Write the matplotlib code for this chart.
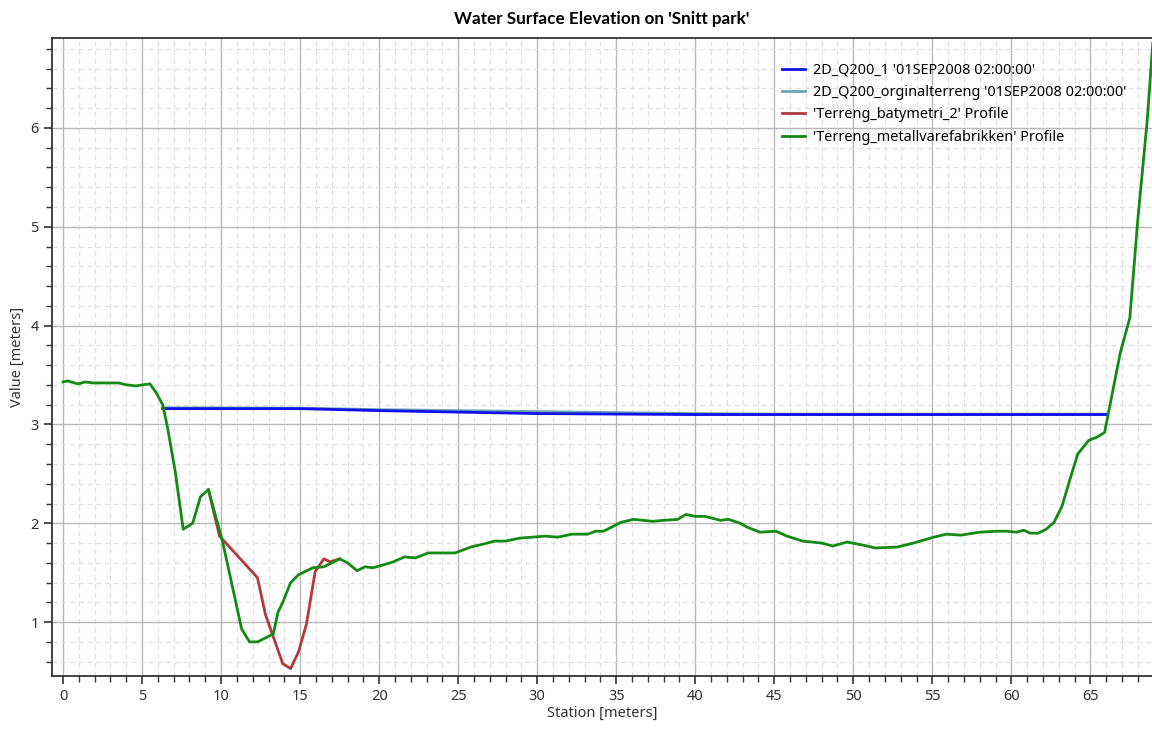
import matplotlib
matplotlib.use("Agg")
import matplotlib.pyplot as plt
from matplotlib.ticker import MultipleLocator

plt.rcParams['font.family'] = ['Noto Sans', 'DejaVu Sans']

# Water surface, 2D_Q200_1
ws1_x = [6.3, 10, 15, 20, 25, 30, 35, 40, 45, 50, 55, 60, 66.0]
ws1_y = [3.16, 3.16, 3.16, 3.14, 3.125, 3.11, 3.105, 3.10, 3.10, 3.10, 3.10, 3.10, 3.10]

# Water surface, 2D_Q200_orginalterreng
ws2_x = [6.3, 10, 15, 20, 25, 30, 35, 40, 45, 50, 55, 60, 66.0]
ws2_y = [3.168, 3.168, 3.165, 3.15, 3.14, 3.13, 3.12, 3.11, 3.105, 3.105, 3.105, 3.105, 3.105]

# Terrain profile, Terreng_batymetri_2 (where it differs from the other profile)
bat_x = [9.2, 9.9, 10.25, 12.3, 12.8, 13.9, 14.4, 14.9, 15.4, 15.95, 16.5, 16.9, 17.5]
bat_y = [2.34, 1.87, 1.81, 1.45, 1.08, 0.58, 0.53, 0.70, 0.98, 1.51, 1.64, 1.61, 1.64]

# Terrain profile, Terreng_metallvarefabrikken
met_x = [0.0, 0.3, 0.95, 1.4, 1.9, 2.5, 3.0, 3.5, 4.05, 4.6, 5.0, 5.5, 5.9, 6.3, 6.6,
         7.1, 7.6, 8.2, 8.7, 9.2, 10.1, 11.3, 11.8, 12.3, 13.3, 13.6, 13.9, 14.4,
         14.9, 15.8, 16.5, 17.5, 18.0, 18.6, 19.1, 19.6, 20.06, 20.9, 21.6, 22.3,
         23.1, 24.8, 25.8, 26.6, 27.3, 28.0, 28.9, 30.5, 31.3, 32.2, 33.2, 33.7,
         34.2, 35.3, 36.1, 37.3, 38.0, 38.9, 39.4, 40.0, 40.6, 41.6, 42.1, 42.85,
         43.3, 44.1, 45.1, 45.8, 46.8, 48.0, 48.7, 49.6, 50.6, 51.4, 52.8, 53.8,
         55.1, 55.9, 56.8, 58.0, 59.1, 59.7, 60.3, 60.8, 61.2, 61.7, 62.2, 62.7,
         63.2, 63.7, 64.2, 64.9, 65.4, 65.9, 66.1, 66.9, 67.5, 68.0, 68.6, 68.95]
met_y = [3.43, 3.44, 3.41, 3.43, 3.42, 3.42, 3.42, 3.42, 3.40, 3.39, 3.40, 3.41, 3.32, 3.20, 2.98,
         2.52, 1.94, 2.00, 2.27, 2.34, 1.81, 0.93, 0.80, 0.80, 0.88, 1.10, 1.20, 1.40,
         1.48, 1.55, 1.56, 1.64, 1.60, 1.52, 1.56, 1.55, 1.57, 1.61, 1.66, 1.65,
         1.70, 1.70, 1.76, 1.79, 1.82, 1.82, 1.85, 1.87, 1.86, 1.89, 1.89, 1.92,
         1.92, 2.01, 2.04, 2.02, 2.03, 2.04, 2.09, 2.07, 2.07, 2.03, 2.04, 2.00,
         1.96, 1.91, 1.92, 1.87, 1.82, 1.80, 1.77, 1.81, 1.78, 1.75, 1.76, 1.80,
         1.86, 1.89, 1.88, 1.91, 1.92, 1.92, 1.91, 1.93, 1.90, 1.90, 1.94, 2.01,
         2.17, 2.44, 2.70, 2.84, 2.87, 2.92, 3.08, 3.73, 4.08, 5.07, 6.08, 6.86]

labels = ["2D_Q200_1 '01SEP2008 02:00:00'",
          "2D_Q200_orginalterreng '01SEP2008 02:00:00'",
          "'Terreng_batymetri_2' Profile",
          "'Terreng_metallvarefabrikken' Profile"]
colors = ["#1010ee", "#6aa5ad", "#b23a3a", "#138a13"]

fig = plt.figure(figsize=(11.52, 7.31), dpi=100)
ax = fig.add_axes([52/1152, 1-676/731, 1-52/1152, (676-38)/731])

lw = 2.0
h2, = ax.plot(ws2_x, ws2_y, color=colors[1], lw=lw, label=labels[1])
h1, = ax.plot(ws1_x, ws1_y, color=colors[0], lw=lw, label=labels[0])
h3, = ax.plot(bat_x, bat_y, color=colors[2], lw=lw, label=labels[2])
h4, = ax.plot(met_x, met_y, color=colors[3], lw=lw, label=labels[3])

ax.set_xlim(-0.7, 68.9)
ax.set_ylim(0.455, 6.91)
ax.xaxis.set_major_locator(MultipleLocator(5))
ax.xaxis.set_minor_locator(MultipleLocator(1))
ax.yaxis.set_major_locator(MultipleLocator(1))
ax.yaxis.set_minor_locator(MultipleLocator(0.2))

ax.grid(which='major', color='#b8b8b8', lw=1.0, ls='-')
ax.grid(which='minor', color='#e0e0e0', lw=0.9, ls=(0, (4, 3)))
ax.set_axisbelow(True)

ax.tick_params(which='major', direction='out', length=6, width=1.2, color='#333333',
               labelsize=10.5, labelcolor='#333333')
ax.tick_params(which='minor', direction='out', length=4, width=1.0, color='#333333')
for s in ['left', 'bottom', 'top']:
    ax.spines[s].set_color('#333333')
    ax.spines[s].set_linewidth(1.3)
ax.spines['right'].set_visible(False)

ax.set_xlabel("Station [meters]", fontsize=10.5, color='#333333', labelpad=1)
ax.set_ylabel("Value [meters]", fontsize=10.5, color='#333333', labelpad=4)
ax.set_title("Water Surface Elevation on 'Snitt park'", fontsize=12.3,
             fontweight='bold', family=['Lato', 'DejaVu Sans'], pad=10)

ax.legend(handles=[h1, h2, h3, h4], loc='upper left', bbox_to_anchor=(0.658, 0.97),
          frameon=False, fontsize=10.4, handlelength=1.6, handletextpad=0.6,
          labelspacing=0.5, borderaxespad=0)

fig.savefig("out.png", dpi=100)
